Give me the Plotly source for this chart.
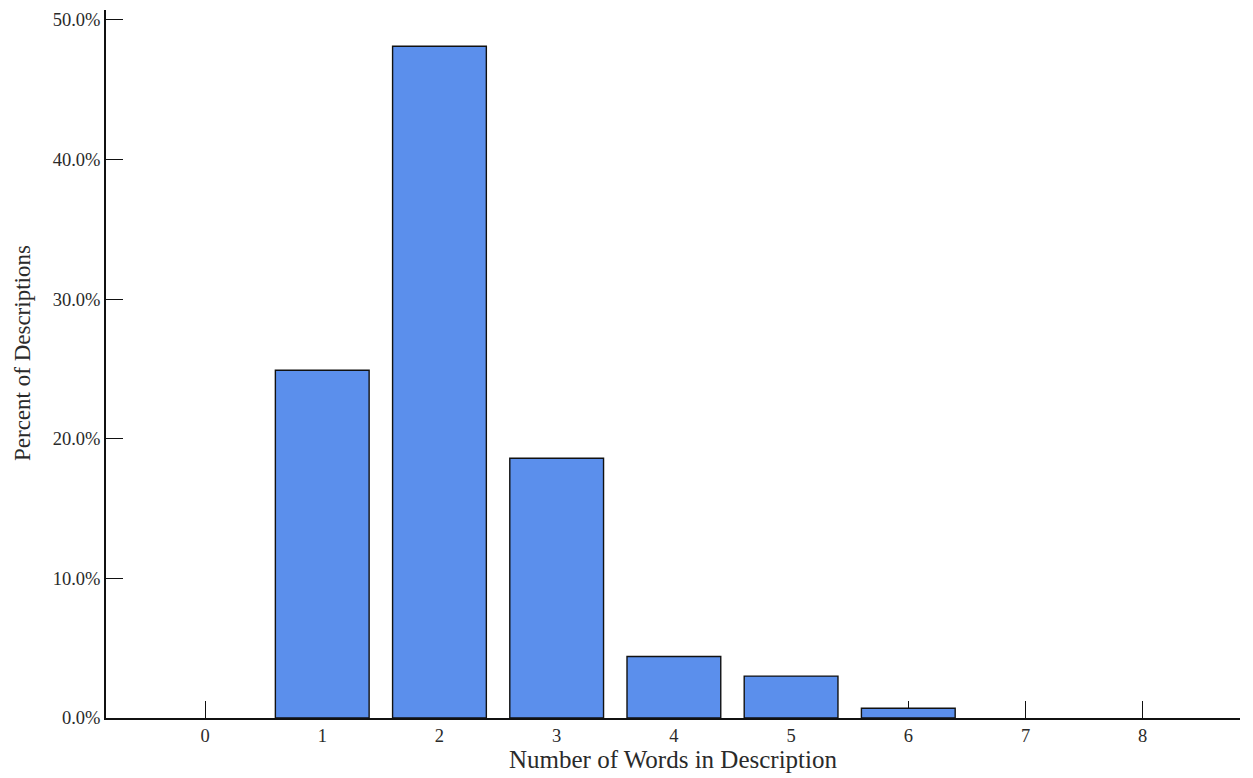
import plotly.graph_objects as go

words = [0, 1, 2, 3, 4, 5, 6, 7, 8]
percent = [0.0, 24.9, 48.1, 18.6, 4.4, 3.0, 0.7, 0.0, 0.0]
y_ticks = [0, 10, 20, 30, 40, 50]
y_tick_labels = ["0.0%", "10.0%", "20.0%", "30.0%", "40.0%", "50.0%"]

line_widths = [0 if v == 0 else 1.4 for v in percent]

fig = go.Figure(go.Bar(
    x=words, y=percent, width=0.8,
    marker=dict(color="#5b8fec", line=dict(color="#111111", width=line_widths)),
))

font = "Liberation Serif, Times New Roman, serif"
fig.update_layout(
    width=1253, height=778,
    margin=dict(l=98, r=21, t=2, b=68),
    plot_bgcolor="white", paper_bgcolor="white",
    font=dict(family=font, color="#2a2a2a", size=18),
    showlegend=False,
)
fig.update_xaxes(
    range=[-0.845, 8.83], tickvals=words, ticktext=[str(w) for w in words],
    ticks="inside", ticklen=17, tickwidth=1.4, tickcolor="#111111",
    showline=True, linecolor="#111111", linewidth=1.6,
    showgrid=False, zeroline=False, layer="below traces",
    title=dict(text="Number of Words in Description", font=dict(size=25), standoff=4),
    tickfont=dict(size=18.5),
    automargin=False,
)
fig.update_yaxes(
    range=[0, 50.7], tickvals=y_ticks, ticktext=y_tick_labels,
    ticks="inside", ticklen=17, tickwidth=1.4, tickcolor="#111111",
    showline=True, linecolor="#111111", linewidth=1.6,
    showgrid=False, zeroline=False, layer="below traces",
    tickfont=dict(size=18.5),
    automargin=False,
)
fig.add_annotation(
    text="Percent of Descriptions", textangle=-90,
    xref="paper", yref="paper", x=0, y=0.5,
    xanchor="center", yanchor="middle", xshift=-84, yshift=11,
    showarrow=False, font=dict(size=23, family=font, color="#2a2a2a"),
)
fig.write_html("out.html")
